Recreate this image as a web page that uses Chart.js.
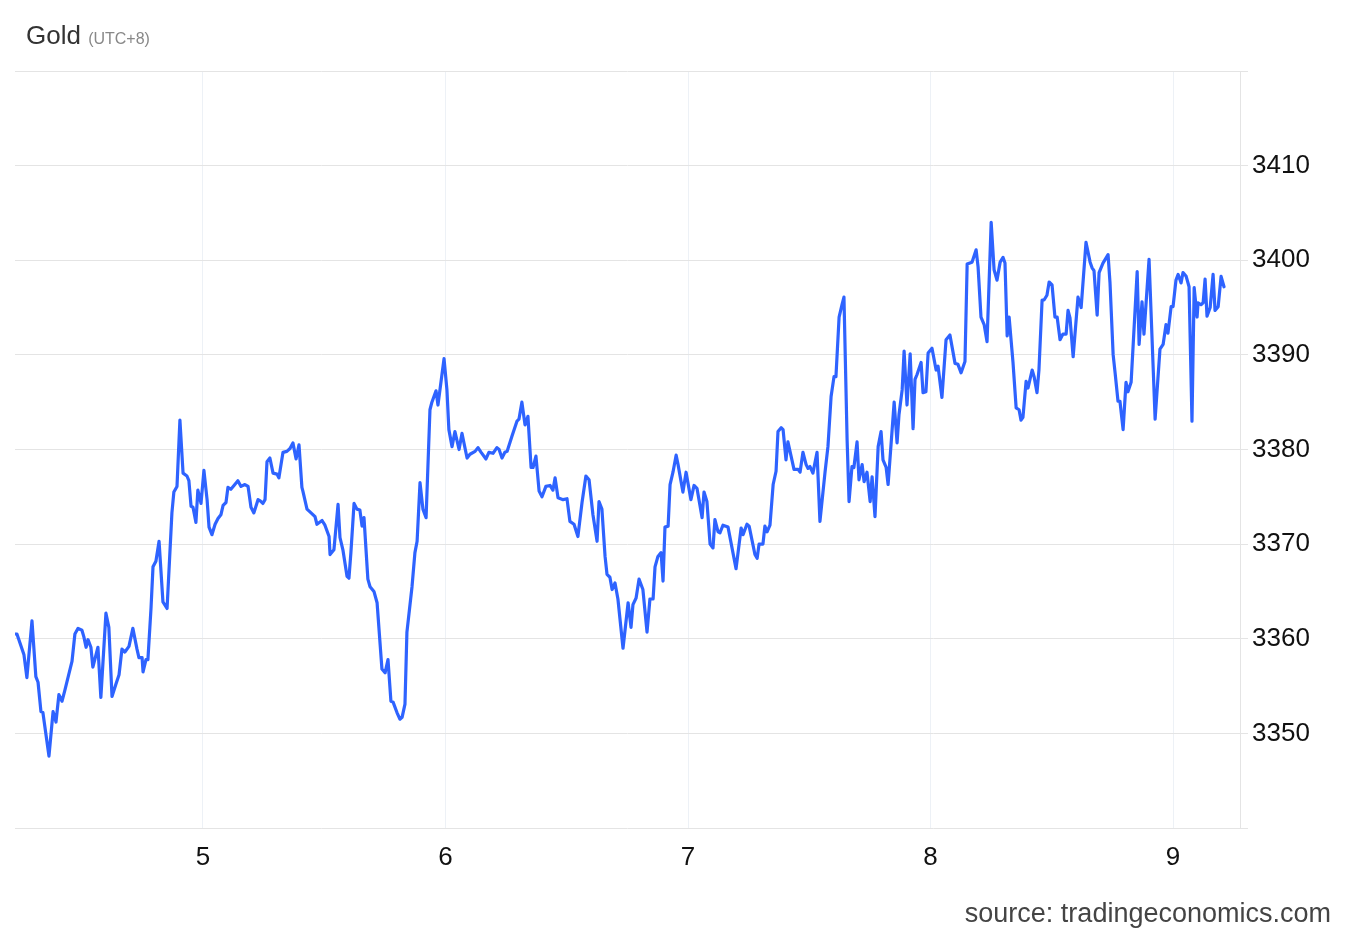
<!DOCTYPE html>
<html>
<head>
<meta charset="utf-8">
<script src="https://cdn.jsdelivr.net/npm/chart.js@4/dist/chart.umd.min.js"></script>
<style>
  body { margin: 0; background: #fff; font-family: "Liberation Sans", Arial, sans-serif; }
  #wrap { position: relative; width: 1350px; height: 936px; }
  #title { position: absolute; left: 26px; top: 20px; font-size: 26px; color: #333; }
  #title span { font-size: 16px; color: #888; }
  #source { position: absolute; right: 19px; top: 898px; font-size: 27px; color: #444; }
  canvas { position: absolute; left: 0; top: 0; }
</style>
</head>
<body>
<div id="wrap">
  <canvas id="chart" width="1350" height="936"></canvas>
  <div id="title">Gold <span>(UTC+8)</span></div>
  <div id="source">source: tradingeconomics.com</div>
</div>
<script>
// time as fractional day of month, UTC+8
const times = [
  4.225,4.233,4.262,4.274,4.295,4.311,4.320,4.332,4.340,4.365,4.382,4.394,4.406,4.419,4.431,4.460,4.472,4.485,4.501,4.509,
  4.518,4.526,4.538,4.546,4.567,4.579,4.600,4.612,4.625,4.641,4.654,4.666,4.678,4.695,4.711,4.728,4.736,4.749,4.753,4.765,
  4.773,4.786,4.794,4.806,4.819,4.835,4.852,4.872,4.880,4.893,4.905,4.918,4.934,4.942,4.951,4.959,4.971,4.979,4.992,5.004,
  5.017,5.025,5.037,5.050,5.062,5.074,5.083,5.095,5.103,5.115,5.128,5.144,5.157,5.173,5.186,5.198,5.210,5.227,5.235,5.247,
  5.256,5.264,5.276,5.289,5.305,5.313,5.330,5.346,5.359,5.371,5.384,5.396,5.408,5.412,5.429,5.450,5.462,5.470,5.491,5.503,
  5.520,5.524,5.540,5.557,5.565,5.577,5.594,5.602,5.610,5.623,5.635,5.647,5.656,5.664,5.680,5.689,5.705,5.718,5.738,5.751,
  5.763,5.775,5.784,5.800,5.812,5.821,5.833,5.841,5.862,5.874,5.883,5.895,5.907,5.920,5.936,5.944,5.961,5.969,5.994,6.006,
  6.014,6.027,6.039,6.056,6.068,6.089,6.101,6.122,6.134,6.147,6.167,6.179,6.196,6.212,6.221,6.233,6.245,6.254,6.274,6.295,
  6.303,6.315,6.328,6.340,6.353,6.361,6.373,6.386,6.398,6.414,6.431,6.443,6.452,6.464,6.485,6.501,6.513,6.530,6.546,6.563,
  6.579,6.592,6.608,6.625,6.633,6.645,6.658,6.666,6.678,6.687,6.699,6.711,6.732,6.753,6.765,6.773,6.786,6.798,6.814,6.831,
  6.843,6.856,6.864,6.876,6.889,6.897,6.905,6.918,6.926,6.938,6.951,6.959,6.979,6.992,7.012,7.025,7.037,7.058,7.066,7.078,
  7.091,7.103,7.111,7.124,7.132,7.144,7.165,7.198,7.219,7.227,7.243,7.252,7.276,7.285,7.293,7.309,7.317,7.326,7.338,7.351,
  7.363,7.371,7.384,7.392,7.404,7.412,7.425,7.437,7.454,7.462,7.474,7.487,7.495,7.503,7.515,7.532,7.544,7.565,7.577,7.590,
  7.602,7.610,7.623,7.635,7.643,7.656,7.664,7.676,7.684,7.697,7.705,7.718,7.726,7.738,7.751,7.759,7.771,7.784,7.796,7.804,
  7.817,7.825,7.850,7.862,7.870,7.883,7.891,7.903,7.916,7.928,7.936,7.944,7.961,7.969,7.981,7.990,8.006,8.023,8.031,8.047,
  8.064,8.080,8.101,8.113,8.126,8.142,8.151,8.171,8.188,8.196,8.208,8.221,8.233,8.250,8.262,8.274,8.287,8.299,8.307,8.316,
  8.324,8.340,8.353,8.365,8.373,8.381,8.394,8.402,8.419,8.427,8.439,8.447,8.460,8.468,8.480,8.489,8.501,8.513,8.522,8.534,
  8.546,8.559,8.567,8.575,8.588,8.608,8.621,8.641,8.658,8.666,8.674,8.687,8.695,8.711,8.732,8.740,8.753,8.761,8.773,8.781,
  8.794,8.806,8.814,8.827,8.852,8.860,8.872,8.880,8.901,8.926,8.946,8.959,8.971,8.979,8.992,9.000,9.012,9.021,9.033,9.041,
  9.054,9.066,9.078,9.087,9.099,9.103,9.115,9.124,9.132,9.140,9.153,9.165,9.173,9.186,9.198,9.210
];

const prices = [
  3360.5,3360.5,3358.3,3355.9,3361.9,3356.0,3355.4,3352.3,3352.2,3347.6,3352.3,3351.2,3354.1,3353.4,3354.6,3357.6,3360.5,3361.1,3360.9,3360.2,
  3359.1,3359.9,3359.1,3357.0,3359.1,3353.8,3362.7,3361.2,3353.9,3355.2,3356.2,3358.9,3358.6,3359.2,3361.1,3358.9,3358.0,3358.0,3356.5,3357.8,
  3357.8,3363.3,3367.6,3368.2,3370.3,3363.9,3363.2,3373.3,3375.5,3376.1,3383.1,3377.5,3377.2,3376.7,3374.0,3373.9,3372.3,3375.7,3374.3,3377.8,
  3374.7,3371.8,3371.0,3372.1,3372.7,3373.1,3374.1,3374.4,3376.0,3375.8,3376.2,3376.7,3376.1,3376.3,3376.1,3373.9,3373.3,3374.7,3374.6,3374.3,
  3374.7,3378.7,3379.1,3377.5,3377.4,3377.0,3379.7,3379.8,3380.1,3380.7,3379.0,3380.5,3376.0,3375.6,3373.7,3373.2,3372.9,3372.1,3372.5,3372.0,
  3370.8,3368.9,3369.4,3374.2,3370.7,3369.4,3366.6,3366.4,3369.1,3374.3,3373.7,3373.6,3371.9,3372.8,3366.3,3365.5,3365.0,3363.8,3356.8,3356.4,
  3357.8,3353.4,3353.3,3352.2,3351.5,3351.7,3353.1,3360.7,3365.5,3369.1,3370.3,3376.5,3373.7,3372.8,3384.2,3385.0,3386.2,3384.7,3389.6,3386.3,
  3382.1,3380.3,3381.9,3380.0,3381.7,3379.1,3379.5,3379.8,3380.2,3379.7,3379.0,3379.7,3379.6,3380.2,3380.0,3379.1,3379.7,3379.8,3381.4,3383.0,
  3383.2,3385.0,3382.6,3383.5,3378.1,3378.1,3379.3,3375.6,3375.0,3376.1,3376.2,3375.7,3377.0,3374.9,3374.7,3374.8,3372.4,3372.1,3370.8,3374.4,
  3377.2,3376.8,3373.1,3370.3,3374.5,3373.7,3368.7,3366.8,3366.5,3365.2,3365.9,3364.2,3359.0,3363.8,3361.2,3363.6,3364.3,3366.3,3365.2,3360.7,
  3364.2,3364.2,3367.6,3368.7,3369.1,3366.1,3371.8,3371.9,3376.3,3377.6,3379.4,3378.4,3375.5,3377.6,3374.7,3376.2,3375.9,3372.8,3375.5,3374.5,
  3370.0,3369.6,3372.6,3371.3,3371.2,3372.0,3371.8,3367.4,3371.7,3371.0,3372.1,3371.9,3368.9,3368.5,3370.0,3370.0,3371.9,3371.3,3372.0,3376.3,
  3377.7,3381.9,3382.3,3382.1,3378.9,3380.8,3379.3,3377.9,3377.9,3377.6,3379.7,3378.4,3378.0,3378.2,3377.5,3379.7,3372.4,3377.6,3380.3,3385.6,
  3387.7,3387.7,3394.0,3395.3,3396.1,3381.0,3374.5,3378.2,3378.1,3380.8,3376.8,3378.4,3376.6,3377.6,3374.5,3377.1,3372.9,3380.3,3381.9,3378.9,
  3378.1,3376.3,3385.0,3380.7,3383.7,3386.3,3390.4,3384.7,3390.1,3382.2,3387.4,3387.9,3389.2,3386.0,3386.1,3390.2,3390.7,3388.4,3388.8,3385.5,
  3391.6,3392.1,3389.1,3389.0,3388.1,3389.3,3399.6,3399.8,3401.1,3399.3,3394.0,3393.2,3391.4,3404.0,3399.0,3397.9,3399.8,3400.3,3399.7,3392.0,
  3394.0,3389.2,3384.4,3384.2,3383.1,3383.4,3387.2,3386.5,3388.4,3387.7,3386.0,3388.4,3395.8,3395.8,3396.3,3397.7,3397.4,3394.0,3394.0,3391.6,
  3392.2,3392.2,3394.7,3393.9,3389.8,3396.1,3395.0,3401.9,3399.8,3399.2,3398.9,3394.2,3398.7,3399.7,3400.6,3397.6,3390.0,3388.1,3385.1,3385.1,
  3382.1,3387.1,3386.1,3387.1,3398.8,3391.1,3395.6,3392.2,3400.1,3383.2,3390.6,3391.1,3393.2,3392.3,3395.1,3395.1,3397.9,3398.5,3397.6,3398.7,
  3398.3,3397.2,3383.0,3397.1,3394.0,3395.5,3395.3,3395.5,3398.0,3394.1,3395.0,3398.5,3394.7,3395.1,3398.3,3397.2
];

const dayTicks = [5, 6, 7, 8, 9];
const priceTicks = [3340, 3350, 3360, 3370, 3380, 3390, 3400, 3410, 3420];
const labelledPrices = [3350, 3360, 3370, 3380, 3390, 3400, 3410];

const points = times.map((t, i) => ({ x: t, y: prices[i] }));

new Chart(document.getElementById("chart"), {
  type: "line",
  data: {
    datasets: [{
      data: points,
      borderColor: "#2e63ff",
      borderWidth: 3.2,
      borderJoinStyle: "round",
      borderCapStyle: "round",
      pointRadius: 0,
      tension: 0,
      fill: false
    }]
  },
  options: {
    responsive: false,
    animation: false,
    devicePixelRatio: 1,
    layout: { padding: { left: 15, top: 71, right: 0, bottom: 48 } },
    plugins: { legend: { display: false }, tooltip: { enabled: false } },
    scales: {
      x: {
        type: "linear",
        min: 4.225,
        max: 9.276,
        afterBuildTicks: s => { s.ticks = dayTicks.map(v => ({ value: v })); },
        afterFit: s => { s.height = 60; },
        grid: { color: "#edf1f6", drawTicks: false },
        border: { display: false },
        ticks: {
          padding: 14,
          color: "#111",
          font: { family: "'Liberation Sans', Arial", size: 26 },
          callback: v => String(v)
        }
      },
      y: {
        position: "right",
        min: 3340,
        max: 3420,
        afterBuildTicks: s => { s.ticks = priceTicks.map(v => ({ value: v })); },
        afterFit: s => { s.width = 110; },
        grid: { color: "#e4e4e4", tickLength: 8, tickColor: "#e4e4e4" },
        border: { display: true, color: "#e4e4e4" },
        ticks: {
          padding: 4,
          color: "#111",
          font: { family: "'Liberation Sans', Arial", size: 26 },
          callback: v => labelledPrices.includes(v) ? String(v) : ""
        }
      }
    }
  }
});
</script>
</body>
</html>
